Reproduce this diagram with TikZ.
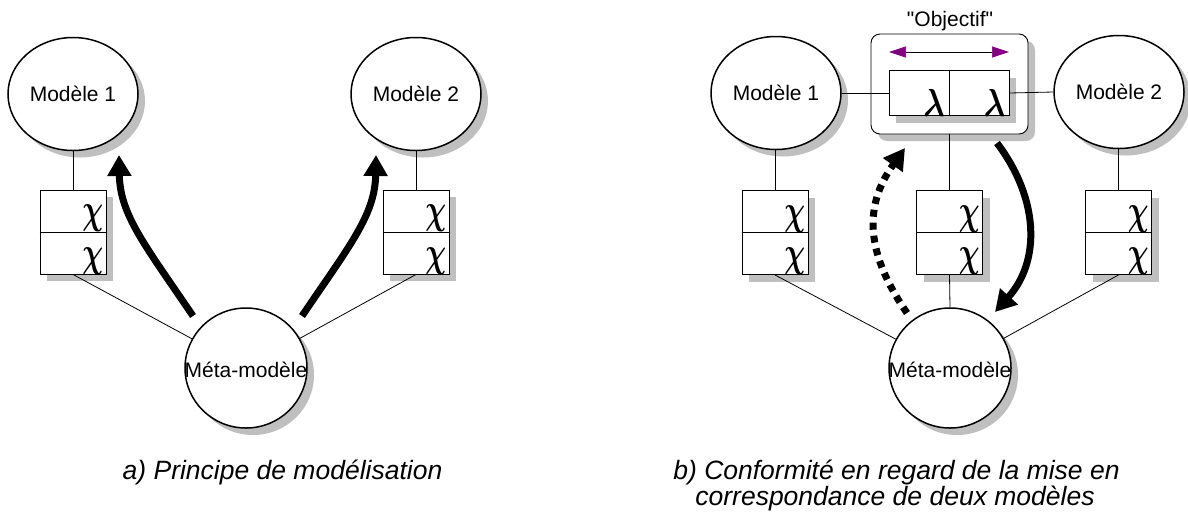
\documentclass[tikz,border=0pt]{standalone}
\usepackage{bm}
\usepackage{fontspec}
\setmainfont{Liberation Sans}
\newfontfamily\plainsans{Liberation Sans}
\usepackage{graphicx}
\usetikzlibrary{shapes.geometric,shadows,arrows.meta}
\definecolor{vio}{HTML}{800080}
\newcommand{\bigchi}{\scalebox{2.9}[4.2]{$\bm{\chi}$}}
\newcommand{\biglam}{\scalebox{3.2}[3.9]{$\bm{\lambda}$}}
\begin{document}
\begin{tikzpicture}[x=1pt,y=-1pt,
  shad/.style={drop shadow={shadow xshift=7pt,shadow yshift=-7pt,fill=black!25,opacity=1}},
  ell/.style={ellipse,draw,line width=1.5pt,fill=white,shad,inner sep=0pt,minimum width=130pt,minimum height=113pt},
  metaell/.style={ellipse,draw,line width=1.5pt,fill=white,shad,inner sep=0pt,minimum width=122pt,minimum height=120pt},
  cbox/.style={rectangle,draw,line width=0.9pt,fill=white,shad,inner sep=0pt,minimum width=66pt,minimum height=84pt},
  lbl/.style={font=\fontsize{21}{25}\selectfont,inner sep=0pt},
  captxt/.style={font=\fontsize{26.5}{30}\selectfont\itshape,anchor=base,inner sep=0pt},
  conn/.style={line width=0.8pt},
  bigarrow/.style={line width=7pt,-{Triangle[length=21pt,width=23pt]}},
  grk/.style={anchor=south east,inner sep=0pt,font=\fontsize{10}{12}\selectfont}
]
\useasboundingbox (0,0) rectangle (1188,515);

% ---------- panel a ----------
\node[ell] (Lm1) at (73,94) {};
\node[lbl] (Lm1t) at (Lm1) {Modèle 1};
\node[ell] (Lm2) at (416,94) {};
\node[lbl] (Lm2t) at (Lm2) {Modèle 2};

\node[cbox] (Lb1) at (73,232) {};
\draw[line width=0.9pt] (Lb1.west) -- (Lb1.east);
\node[grk] (Lb1c1) at ([xshift=-3pt]Lb1.east) {\bigchi};
\node[grk] (Lb1c2) at ([xshift=-3pt]Lb1.south east) {\bigchi};

\node[cbox] (Lb2) at (416,232) {};
\draw[line width=0.9pt] (Lb2.west) -- (Lb2.east);
\node[grk] (Lb2c1) at ([xshift=-3pt]Lb2.east) {\bigchi};
\node[grk] (Lb2c2) at ([xshift=-3pt]Lb2.south east) {\bigchi};

\node[metaell] (Lmeta) at (246,368) {};
\node[lbl] (Lmetat) at (246,370) {Méta-modèle};

\draw[conn] (Lb1.north) -- (Lb1.north |- Lm1.south);
\draw[conn] (Lb2.north) -- (Lb2.north |- Lm2.south);
\draw[conn] (Lb1.south) -- (Lmeta);
\draw[conn] (Lb2.south) -- (Lmeta);

\coordinate (La1s) at (193,316);
\coordinate (La1e) at (119,155);
\coordinate (La2s) at (302,316);
\coordinate (La2e) at (376,155);
\draw[bigarrow] (La1s) .. controls (145,245) and (120,215) .. (La1e);
\draw[bigarrow] (La2s) .. controls (350,245) and (375,215) .. (La2e);

\node[captxt] (capa) at (282.5,479) {a) Principe de modélisation};

% ---------- panel b ----------
\node[ell] (Rm1) at (776,93) {};
\node[lbl] (Rm1t) at (Rm1) {Modèle 1};
\node[ell] (Rm2) at (1119,92) {};
\node[lbl] (Rm2t) at (Rm2) {Modèle 2};

\node[rectangle,rounded corners=9pt,draw,line width=0.9pt,fill=white,shad,minimum width=157pt,minimum height=100pt,inner sep=0pt] (obj) at (949.5,84) {};
\node[lbl] (objt) at (950,21) {\plainsans "Objectif"};
\coordinate (pl) at (889,52);
\coordinate (pr) at (1009,52);
\draw[line width=0.7pt,{Triangle[length=17pt,width=11pt,fill=vio,color=vio]}-{Triangle[length=17pt,width=11pt,fill=vio,color=vio]}] (pl) -- (pr);

\node[rectangle,draw,line width=0.9pt,fill=white,shad,minimum width=120pt,minimum height=45pt,inner sep=0pt] (lam) at (949,93) {};
\draw[line width=0.9pt] (lam.north) -- (lam.south);
\node[grk] (lam1) at ([xshift=-4pt,yshift=-1pt]lam.south) {\biglam};
\node[grk] (lam2) at ([xshift=-4pt,yshift=-1pt]lam.south east) {\biglam};

\node[cbox] (Rb1) at (775,232.5) {};
\draw[line width=0.9pt] (Rb1.west) -- (Rb1.east);
\node[grk] (Rb1c1) at ([xshift=-3pt]Rb1.east) {\bigchi};
\node[grk] (Rb1c2) at ([xshift=-3pt]Rb1.south east) {\bigchi};

\node[cbox] (Rb2) at (949.5,232.5) {};
\draw[line width=0.9pt] (Rb2.west) -- (Rb2.east);
\node[grk] (Rb2c1) at ([xshift=-3pt]Rb2.east) {\bigchi};
\node[grk] (Rb2c2) at ([xshift=-3pt]Rb2.south east) {\bigchi};

\node[cbox] (Rb3) at (1118.5,232.5) {};
\draw[line width=0.9pt] (Rb3.west) -- (Rb3.east);
\node[grk] (Rb3c1) at ([xshift=-3pt]Rb3.east) {\bigchi};
\node[grk] (Rb3c2) at ([xshift=-3pt]Rb3.south east) {\bigchi};

\node[metaell] (Rmeta) at (950,368) {};
\node[lbl] (Rmetat) at (950,370) {Méta-modèle};

\draw[conn] (Rm1.east) -- (lam.west);
\draw[conn] (lam.east) -- (Rm2.west);
\draw[conn] (obj.south) -- (Rb2.north);
\draw[conn] (Rb2.south) -- (Rmeta.north);
\draw[conn] (Rb1.north) -- (Rb1.north |- Rm1.south);
\draw[conn] (Rb3.north) -- (Rb3.north |- Rm2.south);
\draw[conn] (Rb1.south) -- (Rmeta);
\draw[conn] (Rb3.south) -- (Rmeta);

\coordinate (Rds) at (907,313);
\coordinate (Rde) at (905,148);
\draw[line width=7pt,dash pattern=on 7pt off 6pt,-{Triangle[length=21pt,width=23pt]}] (Rds) .. controls (860,245) and (868,200) .. (Rde);
\coordinate (Rss) at (997,143);
\coordinate (Rse) at (995,312);
\draw[bigarrow] (Rss) .. controls (1040,200) and (1040,262) .. (Rse);

\node[captxt] (capb1) at (896.5,479) {b) Conformité en regard de la mise en};
\node[captxt] (capb2) at (895,505) {correspondance de deux modèles};
\end{tikzpicture}
\end{document}
